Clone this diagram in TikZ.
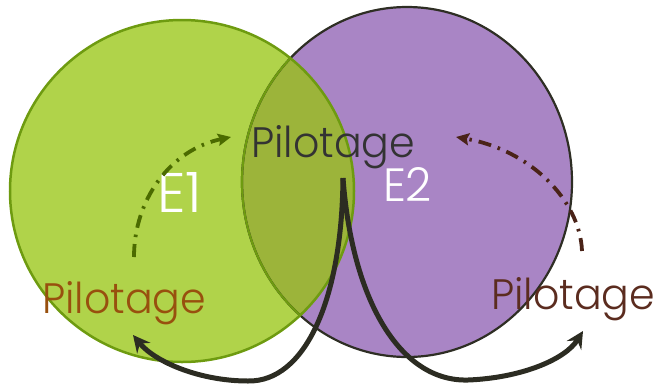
\documentclass[tikz,border=0pt]{standalone}
\usepackage{fontspec}
\setmainfont{Poppins Light}
\usetikzlibrary{arrows.meta,shapes.geometric}
\definecolor{gfill}{HTML}{B0D34A}
\definecolor{gline}{HTML}{6E9B10}
\definecolor{pfill}{HTML}{A985C5}
\definecolor{pline}{HTML}{2E2E24}
\definecolor{ovl}{HTML}{9CB43A}
\definecolor{ctext}{HTML}{333333}
\definecolor{ltext}{HTML}{98500E}
\definecolor{rtext}{HTML}{5B2C1F}
\definecolor{thick}{HTML}{2C2C22}
\definecolor{gdash}{HTML}{4B6B00}
\definecolor{bdash}{HTML}{4A2318}
\tikzset{
  lbl/.style={inner sep=0pt,outer sep=0pt,anchor=base west},
  bigarrow/.style={draw=thick,line width=5pt,-{Stealth[length=17pt,width=17pt,inset=6pt]}},
  dasharrow/.style={line width=3.8pt,dash pattern=on 13pt off 7pt on 2.5pt off 7pt,-{Stealth[length=13pt,width=12pt,inset=2pt]}},
}
\newcommand{\pilo}{\resizebox{164pt}{32pt}{Pilotage}}
\begin{document}
\begin{tikzpicture}[x=1pt,y=-1pt]
\useasboundingbox (0,0) rectangle (659,384);
% ellipses
\fill[pfill] (407,182) ellipse [x radius=165,y radius=175];
\fill[gfill] (182,191) ellipse [x radius=172,y radius=171];
\begin{scope}
  \clip (182,191) ellipse [x radius=172,y radius=171];
  \fill[ovl] (407,182) ellipse [x radius=165,y radius=175];
\end{scope}
\draw[pline,line width=2.2pt] (407,182) ellipse [x radius=165,y radius=175];
\begin{scope}
  \clip (182,191) ellipse [x radius=172,y radius=171];
  \draw[gline,line width=2.2pt] (407,182) ellipse [x radius=165,y radius=175];
\end{scope}
\draw[gline,line width=2.5pt] (182,191) ellipse [x radius=172,y radius=171];
% texts
\node[lbl,text=ctext] (pc) at (251,157) {\pilo};
\node[lbl,text=ltext] (pl) at (42,313) {\pilo};
\node[lbl,text=rtext] (pr) at (491,309) {\pilo};
\node[lbl,text=white] (e1) at (157,212) {\resizebox{45pt}{40pt}{E1}};
\node[lbl,text=white] (e2) at (383,201) {\resizebox{49pt}{34pt}{E2}};
% coordinates
\coordinate (src) at (343,178);
\coordinate (tl) at (133,335);
\coordinate (tr) at (583,331);
\coordinate (gs) at (134,257);
\coordinate (ge) at (231,137);
\coordinate (bs) at (582,251);
\coordinate (be) at (456,137);
% dash-dot arcs
\draw[dasharrow,gdash] (gs) .. controls (134,200) and (170,150) .. (ge);
\draw[dasharrow,bdash] (bs) .. controls (580,200) and (530,150) .. (be);
% thick curves
\draw[bigarrow] (src) .. controls (342,300) and (305,382) .. (248,381) .. controls (200,381) and (155,362) .. (tl);
\draw[bigarrow] (src) .. controls (352,300) and (400,382) .. (468,380) .. controls (520,378) and (565,360) .. (tr);
\end{tikzpicture}
\end{document}
